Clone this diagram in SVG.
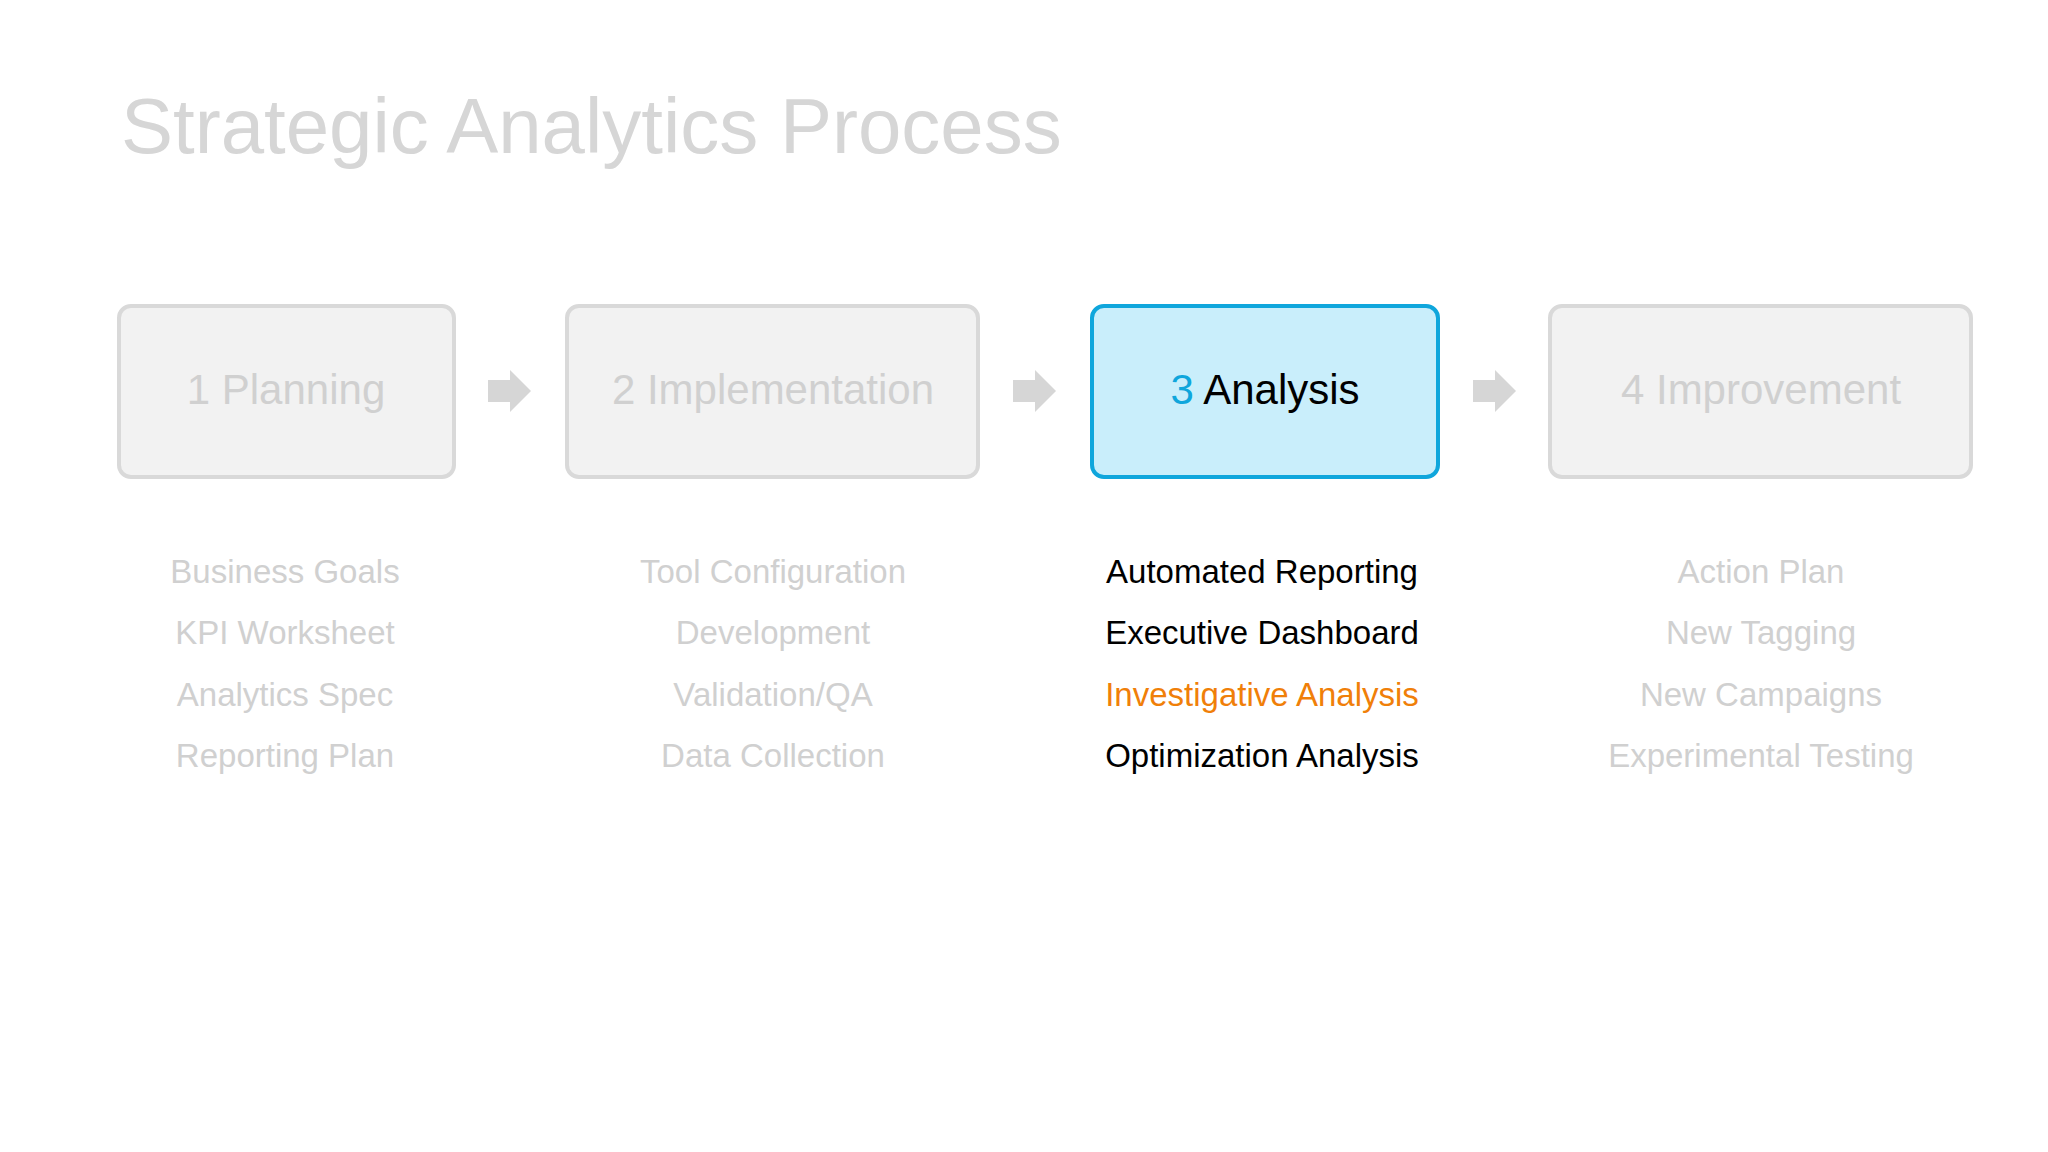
<svg xmlns="http://www.w3.org/2000/svg" width="2048" height="1152" viewBox="0 0 2048 1152">
<style>
text{font-family:"Liberation Sans",Arial,sans-serif}
.box{fill:#f2f2f2;stroke:#d9d9d9;stroke-width:4}
.lbl{font-size:42px;fill:#d0d0d0;text-anchor:middle}
.item{font-size:33px;fill:#d0d0d0;text-anchor:middle}
.arrow{fill:#d6d6d6}
</style>
<rect width="2048" height="1152" fill="#fff"/>
<text x="121" y="153" font-size="78" fill="#d6d6d6">Strategic Analytics Process</text>
<g id="node1"><rect class="box" x="119" y="306" width="335" height="171" rx="12"/><text class="lbl" x="286" y="404">1  Planning</text>
<text class="item" x="285" y="583">Business Goals</text><text class="item" x="285" y="644">KPI Worksheet</text><text class="item" x="285" y="706">Analytics Spec</text><text class="item" x="285" y="767">Reporting Plan</text></g>
<g id="node2"><rect class="box" x="567" y="306" width="411" height="171" rx="12"/><text class="lbl" x="773" y="404">2  Implementation</text>
<text class="item" x="773" y="583">Tool Configuration</text><text class="item" x="773" y="644">Development</text><text class="item" x="773" y="706">Validation/QA</text><text class="item" x="773" y="767">Data Collection</text></g>
<g id="node3"><rect x="1092" y="306" width="346" height="171" rx="12" fill="#c9eefb" stroke="#0fa6dc" stroke-width="4"/><text x="1265" y="404" font-size="42" text-anchor="middle" fill="#000"><tspan fill="#0fa6dc">3</tspan>  Analysis</text>
<text class="item" x="1262" y="583" fill="#000" style="fill:#000">Automated Reporting</text><text class="item" x="1262" y="644" style="fill:#000">Executive Dashboard</text><text class="item" x="1262" y="706" style="fill:#f07f09">Investigative Analysis</text><text class="item" x="1262" y="767" style="fill:#000">Optimization Analysis</text></g>
<g id="node4"><rect class="box" x="1550" y="306" width="421" height="171" rx="12"/><text class="lbl" x="1761" y="404">4  Improvement</text>
<text class="item" x="1761" y="583">Action Plan</text><text class="item" x="1761" y="644">New Tagging</text><text class="item" x="1761" y="706">New Campaigns</text><text class="item" x="1761" y="767">Experimental Testing</text></g>
<g id="connectors">
<polygon class="arrow" points="488,380 510,380 510,370 531,391 510,412 510,402 488,402"/>
<polygon class="arrow" points="1013,380 1035,380 1035,370 1056,391 1035,412 1035,402 1013,402"/>
<polygon class="arrow" points="1473,380 1495,380 1495,370 1516,391 1495,412 1495,402 1473,402"/>
</g>
</svg>
